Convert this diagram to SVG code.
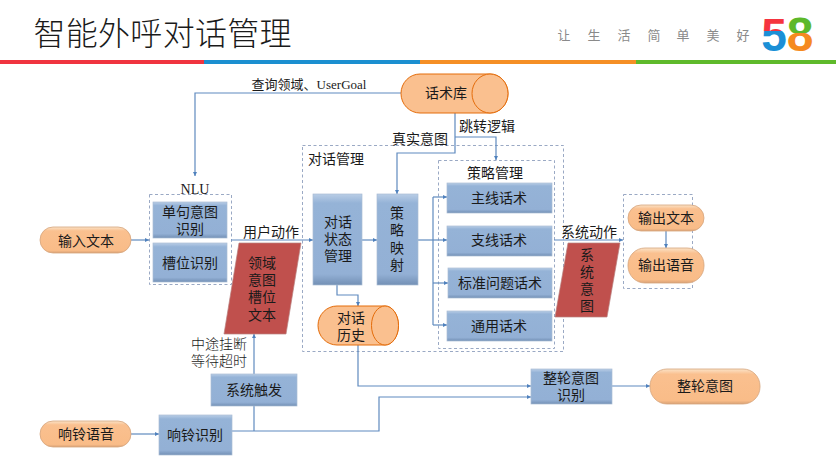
<svg xmlns="http://www.w3.org/2000/svg" width="836" height="463" viewBox="0 0 836 463">
<defs>
<linearGradient id="gBlue" x1="0" y1="0" x2="0" y2="1"><stop offset="0" stop-color="#b9cde6"/><stop offset="0.1" stop-color="#95b3d7"/><stop offset="0.88" stop-color="#93b0d5"/><stop offset="1" stop-color="#7390b5"/></linearGradient>
<linearGradient id="gOrange" x1="0" y1="0" x2="0" y2="1"><stop offset="0" stop-color="#fbe3c8"/><stop offset="0.15" stop-color="#fac08f"/><stop offset="0.9" stop-color="#f9bc88"/><stop offset="1" stop-color="#d9a276"/></linearGradient>
<linearGradient id="five" x1="0" y1="0" x2="0" y2="1"><stop offset="0.42" stop-color="#f5343f"/><stop offset="0.42" stop-color="#1b8fd6"/></linearGradient>
<linearGradient id="eight" x1="0" y1="0" x2="0" y2="1"><stop offset="0.47" stop-color="#5db82a"/><stop offset="0.47" stop-color="#f58a1f"/></linearGradient>
<marker id="arr" markerWidth="5" markerHeight="5" refX="4" refY="2.5" orient="auto" markerUnits="userSpaceOnUse"><path d="M0,0.5 L4,2.5 L0,4.5 Z" fill="#4f81bd"/></marker>
</defs>
<style>
text{font-family:"Noto Sans CJK SC","Noto Sans",sans-serif;fill:#1a1a1a;font-size:14px;text-anchor:middle}
.b{fill:url(#gBlue);stroke:#a9bcd4;stroke-width:0.7}
.o{fill:url(#gOrange);stroke:#d5a57c;stroke-width:0.8}
.r{fill:#c0504d;stroke:#b9817f;stroke-width:0.7}
.cy{fill:#fac08f;stroke:#e46c0a;stroke-width:1}
.d{fill:none;stroke:#9aa9c4;stroke-width:1;stroke-dasharray:3 2.5}
.c{fill:none;stroke:#5f8abf;stroke-width:1.2}
.a{marker-end:url(#arr)}
.t{fill:#8a8a8a;font-size:13px}
</style>
<rect width="836" height="463" fill="#fff"/>
<g id="header">
<text x="162.500" y="45" style="font-size:32px;font-weight:300" textLength="258" lengthAdjust="spacing">智能外呼对话管理</text>
<rect x="0" y="60" width="204" height="4" fill="#f0343f"/>
<rect x="204" y="60" width="216" height="4" fill="#1b8fd0"/>
<rect x="420" y="60" width="216" height="4" fill="#f58f25"/>
<rect x="636" y="60" width="200" height="4" fill="#5fba2b"/>
<text class="t" x="564" y="40">让</text><text class="t" x="594" y="40">生</text><text class="t" x="624" y="40">活</text><text class="t" x="654" y="40">简</text><text class="t" x="683" y="40">单</text><text class="t" x="713" y="40">美</text><text class="t" x="743" y="40">好</text>
<text x="774" y="51" style="font-family:'Liberation Sans',sans-serif;font-size:46px;font-weight:700;fill:url(#five)">5</text>
<text x="800" y="51" style="font-family:'Liberation Sans',sans-serif;font-size:48px;font-weight:700;fill:url(#eight)">8</text>
</g>
<g id="containers">
<rect class="d" x="302.500" y="145.500" width="261" height="206"/>
<rect class="d" x="438.500" y="160.500" width="116" height="188"/>
<rect class="d" x="149.500" y="194.500" width="82" height="90"/>
<rect class="d" x="623.500" y="194.500" width="69" height="94"/>
</g>
<g id="connectors">
<path class="c a" d="M401,93 H195 V176"/>
<path class="c a" d="M455,113 V153 H397 V194"/>
<path class="c a" d="M455,137 H496 V160"/>
<path class="c a" d="M131,240 H149"/>
<path class="c a" d="M231,240 H313"/>
<path class="c a" d="M362,240 H377"/>
<path class="c" d="M418,240 H433"/>
<path class="c" d="M433,197 V325"/>
<path class="c a" d="M433,197 H447"/>
<path class="c a" d="M433,240 H447"/>
<path class="c a" d="M433,283 H448"/>
<path class="c a" d="M433,325 H447"/>
<path class="c a" d="M554,240 H623"/>
<path class="c a" d="M666,231 V248"/>
<path class="c a" d="M337,285 V295 H358 V306"/>
<path class="c a" d="M358,345 V386 H531"/>
<path class="c a" d="M254,374 V334"/>
<path class="c" d="M254,406 V431"/>
<path class="c a" d="M131,434 H159"/>
<path class="c a" d="M232,431 H379 V397 H531"/>
<path class="c a" d="M612,386 H650"/>
</g>
<g id="labels">
<text x="309" y="89" style="font-size:13px;font-family:'Noto Sans CJK SC',serif">查询领域、<tspan style="font-family:'Liberation Serif',serif">UserGoal</tspan></text>
<text x="420" y="144">真实意图</text>
<text x="487" y="131">跳转逻辑</text>
<text x="336" y="164">对话管理</text>
<text x="495" y="178">策略管理</text>
<text x="195" y="194" style="font-family:'Liberation Serif',serif;font-size:14px">NLU</text>
<text x="271" y="237">用户动作</text>
<text x="589" y="237">系统动作</text>
<text x="219" y="349" style="font-weight:300">中途挂断</text>
<text x="219" y="366" style="font-weight:300">等待超时</text>
</g>
<g id="n-kb"><path class="cy" d="M420,74 H490 A18,19.500 0 0 1 490,113 H420 A19,19.500 0 0 1 420,74 Z"/><ellipse class="cy" cx="490" cy="93.500" rx="18" ry="19.500"/><text x="446" y="98">话术库</text></g>
<g id="n-single"><rect class="b" x="153" y="202" width="74" height="36"/><text x="190" y="217">单句意图</text><text x="190" y="234">识别</text></g>
<g id="n-slot"><rect class="b" x="153" y="243" width="74" height="39"/><text x="190" y="268">槽位识别</text></g>
<g id="n-input"><rect class="o" x="40" y="227" width="91" height="26" rx="13"/><text x="86" y="246">输入文本</text></g>
<g id="n-ua"><path class="r" d="M239,243 H301 L286,334 H224 Z"/><text x="262" y="268">领域</text><text x="262" y="285">意图</text><text x="262" y="302">槽位</text><text x="262" y="320">文本</text></g>
<g id="n-state"><rect class="b" x="313" y="194" width="49" height="91"/><text x="338" y="227">对话</text><text x="338" y="244">状态</text><text x="338" y="261">管理</text></g>
<g id="n-policy"><rect class="b" x="377" y="194" width="41" height="91"/><text x="397" y="218">策</text><text x="397" y="235">略</text><text x="397" y="253">映</text><text x="397" y="270">射</text></g>
<g id="n-main"><rect class="b" x="447" y="183" width="105" height="30"/><text x="499" y="203">主线话术</text></g>
<g id="n-branch"><rect class="b" x="447" y="226" width="105" height="30"/><text x="499" y="245">支线话术</text></g>
<g id="n-std"><rect class="b" x="448" y="268" width="104" height="30"/><text x="500" y="288">标准问题话术</text></g>
<g id="n-general"><rect class="b" x="447" y="311" width="105" height="30"/><text x="499" y="331">通用话术</text></g>
<g id="n-sa"><path class="r" d="M568,243 H620 L607,317 H555 Z"/><text x="587" y="260">系</text><text x="587" y="277">统</text><text x="587" y="294">意</text><text x="587" y="311">图</text></g>
<g id="n-outtext"><rect class="o" x="628" y="205" width="76" height="26" rx="13"/><text x="666" y="223">输出文本</text></g>
<g id="n-outvoice"><rect class="o" x="628" y="248" width="76" height="35" rx="17"/><text x="666" y="270">输出语音</text></g>
<g id="n-history"><path class="cy" d="M337,306 H385 A13.500,19.500 0 0 1 385,345 H337 A19,19.500 0 0 1 337,306 Z"/><ellipse class="cy" cx="385" cy="325.500" rx="13.500" ry="19.500"/><text x="351" y="323">对话</text><text x="351" y="340">历史</text></g>
<g id="n-trigger"><rect class="b" x="211" y="374" width="86" height="32"/><text x="254" y="395">系统触发</text></g>
<g id="n-ringrec"><rect class="b" x="159" y="415" width="73" height="40"/><text x="195" y="440">响铃识别</text></g>
<g id="n-ring"><rect class="o" x="40" y="421" width="91" height="26" rx="13"/><text x="86" y="439">响铃语音</text></g>
<g id="n-turnrec"><rect class="b" x="531" y="369" width="81" height="35"/><text x="571" y="383">整轮意图</text><text x="571" y="400">识别</text></g>
<g id="n-turn"><rect class="o" x="650" y="369" width="110" height="35" rx="17"/><text x="705" y="391">整轮意图</text></g>
</svg>
